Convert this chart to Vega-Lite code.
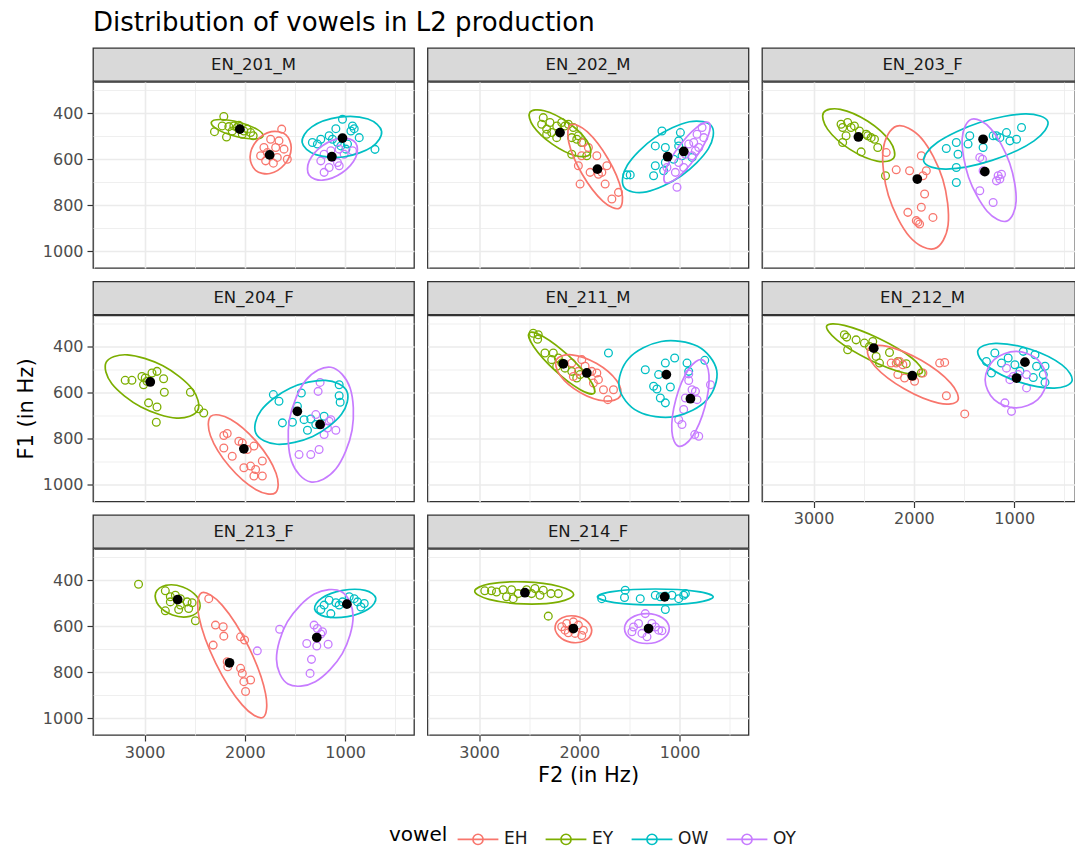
{
  "$schema": "https://vega.github.io/schema/vega-lite/v6.json",
  "padding": {"left": 14, "top": 10, "right": 0, "bottom": 0},
  "title": {"text": "Distribution of vowels in L2 production", "anchor": "start", "frame": "group", "baseline": "alphabetic", "offset": -10},
  "config": {
    "font": "DejaVu Sans",
    "view": {"stroke": "#333333", "strokeWidth": 1.3},
    "range": {"category": ["#F8766D", "#7CAE00", "#00BFC4", "#C77CFF"]},
    "title": {"fontSize": 26, "fontWeight": "normal", "color": "#000000"},
    "axis": {"domain": false, "labelFontSize": 16, "labelColor": "#4d4d4d", "tickColor": "#333333", "tickWidth": 1.2, "tickSize": 6, "gridColor": "#ebebeb", "titleFontSize": 21, "titleFontWeight": "normal", "titleColor": "#000000", "labelOverlap": false, "labelFlush": false},
    "axisX": {"labelPadding": 3, "titlePadding": 4},
    "axisY": {"labelPadding": 4, "titlePadding": 6},
    "legend": {"orient": "none", "legendX": 296, "legendY": 775, "direction": "horizontal", "titleOrient": "left", "titleFontSize": 20, "titleFontWeight": "normal", "titleColor": "#000000", "titlePadding": 14, "labelFontSize": 17, "labelColor": "#1a1a1a", "labelOffset": 10, "columnPadding": 14, "symbolType": "M-1.36,0L1.36,0M-0.34,0A0.34,0.34,0,1,1,0.34,0A0.34,0.34,0,1,1,-0.34,0", "symbolSize": 900, "symbolStrokeWidth": 1.6, "symbolFillColor": "transparent"}
  },
  "datasets": {
    "strips": [
      {"speaker": "EN_201_M"}, {"speaker": "EN_202_M"}, {"speaker": "EN_203_F"}, {"speaker": "EN_204_F"},
      {"speaker": "EN_211_M"}, {"speaker": "EN_212_M"}, {"speaker": "EN_213_F"}, {"speaker": "EN_214_F"}
    ],
    "tokens": [
      {"speaker":"EN_201_M","vowel":"EY","F2":2210,"F1":414},{"speaker":"EN_201_M","vowel":"EY","F2":2303,"F1":480},{"speaker":"EN_201_M","vowel":"EY","F2":2183,"F1":503},{"speaker":"EN_201_M","vowel":"EY","F2":2226,"F1":455},{"speaker":"EN_201_M","vowel":"EY","F2":2160,"F1":458},{"speaker":"EN_201_M","vowel":"EY","F2":2110,"F1":455},{"speaker":"EN_201_M","vowel":"EY","F2":2060,"F1":452},{"speaker":"EN_201_M","vowel":"EY","F2":2010,"F1":477},{"speaker":"EN_201_M","vowel":"EY","F2":1977,"F1":469},{"speaker":"EN_201_M","vowel":"EY","F2":1943,"F1":484},{"speaker":"EN_201_M","vowel":"EY","F2":1917,"F1":498},{"speaker":"EN_201_M","vowel":"EY","F2":2126,"F1":477},{"speaker":"EN_201_M","vowel":"EY","F2":2026,"F1":491},{"speaker":"EN_201_M","vowel":"EY","F2":2076,"F1":462},
      {"speaker":"EN_201_M","vowel":"EH","F2":1633,"F1":469},{"speaker":"EN_201_M","vowel":"EH","F2":1743,"F1":513},{"speaker":"EN_201_M","vowel":"EH","F2":1660,"F1":520},{"speaker":"EN_201_M","vowel":"EH","F2":1810,"F1":549},{"speaker":"EN_201_M","vowel":"EH","F2":1693,"F1":549},{"speaker":"EN_201_M","vowel":"EH","F2":1610,"F1":556},{"speaker":"EN_201_M","vowel":"EH","F2":1577,"F1":600},{"speaker":"EN_201_M","vowel":"EH","F2":1793,"F1":607},{"speaker":"EN_201_M","vowel":"EH","F2":1716,"F1":617},{"speaker":"EN_201_M","vowel":"EH","F2":1843,"F1":585},{"speaker":"EN_201_M","vowel":"EH","F2":1677,"F1":592},{"speaker":"EN_201_M","vowel":"EH","F2":1776,"F1":571},
      {"speaker":"EN_201_M","vowel":"OW","F2":1027,"F1":426},{"speaker":"EN_201_M","vowel":"OW","F2":1093,"F1":467},{"speaker":"EN_201_M","vowel":"OW","F2":927,"F1":455},{"speaker":"EN_201_M","vowel":"OW","F2":910,"F1":467},{"speaker":"EN_201_M","vowel":"OW","F2":943,"F1":477},{"speaker":"EN_201_M","vowel":"OW","F2":1160,"F1":498},{"speaker":"EN_201_M","vowel":"OW","F2":1243,"F1":513},{"speaker":"EN_201_M","vowel":"OW","F2":1327,"F1":527},{"speaker":"EN_201_M","vowel":"OW","F2":1277,"F1":534},{"speaker":"EN_201_M","vowel":"OW","F2":1077,"F1":527},{"speaker":"EN_201_M","vowel":"OW","F2":860,"F1":506},{"speaker":"EN_201_M","vowel":"OW","F2":977,"F1":534},{"speaker":"EN_201_M","vowel":"OW","F2":1043,"F1":542},{"speaker":"EN_201_M","vowel":"OW","F2":703,"F1":557},{"speaker":"EN_201_M","vowel":"OW","F2":993,"F1":556},{"speaker":"EN_201_M","vowel":"OW","F2":1127,"F1":513},
      {"speaker":"EN_201_M","vowel":"OY","F2":1210,"F1":578},{"speaker":"EN_201_M","vowel":"OY","F2":1143,"F1":563},{"speaker":"EN_201_M","vowel":"OY","F2":1060,"F1":556},{"speaker":"EN_201_M","vowel":"OY","F2":1010,"F1":578},{"speaker":"EN_201_M","vowel":"OY","F2":927,"F1":563},{"speaker":"EN_201_M","vowel":"OY","F2":1243,"F1":607},{"speaker":"EN_201_M","vowel":"OY","F2":1077,"F1":614},{"speaker":"EN_201_M","vowel":"OY","F2":1060,"F1":628},{"speaker":"EN_201_M","vowel":"OY","F2":1160,"F1":636},{"speaker":"EN_201_M","vowel":"OY","F2":1210,"F1":657},{"speaker":"EN_201_M","vowel":"OY","F2":1127,"F1":592},

      {"speaker":"EN_202_M","vowel":"EY","F2":2360,"F1":419},{"speaker":"EN_202_M","vowel":"EY","F2":2376,"F1":448},{"speaker":"EN_202_M","vowel":"EY","F2":2326,"F1":469},{"speaker":"EN_202_M","vowel":"EY","F2":2293,"F1":440},{"speaker":"EN_202_M","vowel":"EY","F2":2226,"F1":455},{"speaker":"EN_202_M","vowel":"EY","F2":2176,"F1":440},{"speaker":"EN_202_M","vowel":"EY","F2":2143,"F1":455},{"speaker":"EN_202_M","vowel":"EY","F2":2110,"F1":448},{"speaker":"EN_202_M","vowel":"EY","F2":2060,"F1":462},{"speaker":"EN_202_M","vowel":"EY","F2":2026,"F1":513},{"speaker":"EN_202_M","vowel":"EY","F2":2076,"F1":506},{"speaker":"EN_202_M","vowel":"EY","F2":2226,"F1":506},{"speaker":"EN_202_M","vowel":"EY","F2":2276,"F1":484},{"speaker":"EN_202_M","vowel":"EY","F2":2326,"F1":491},{"speaker":"EN_202_M","vowel":"EY","F2":1977,"F1":527},{"speaker":"EN_202_M","vowel":"EY","F2":2076,"F1":578},{"speaker":"EN_202_M","vowel":"EY","F2":1926,"F1":585},{"speaker":"EN_202_M","vowel":"EY","F2":2010,"F1":498},
      {"speaker":"EN_202_M","vowel":"EH","F2":1960,"F1":527},{"speaker":"EN_202_M","vowel":"EH","F2":1977,"F1":585},{"speaker":"EN_202_M","vowel":"EH","F2":1910,"F1":549},{"speaker":"EN_202_M","vowel":"EH","F2":1826,"F1":585},{"speaker":"EN_202_M","vowel":"EH","F2":2010,"F1":628},{"speaker":"EN_202_M","vowel":"EH","F2":1893,"F1":657},{"speaker":"EN_202_M","vowel":"EH","F2":1776,"F1":657},{"speaker":"EN_202_M","vowel":"EH","F2":1726,"F1":628},{"speaker":"EN_202_M","vowel":"EH","F2":1993,"F1":708},{"speaker":"EN_202_M","vowel":"EH","F2":1743,"F1":708},{"speaker":"EN_202_M","vowel":"EH","F2":1610,"F1":744},{"speaker":"EN_202_M","vowel":"EH","F2":1676,"F1":773},{"speaker":"EN_202_M","vowel":"EH","F2":1810,"F1":665},
      {"speaker":"EN_202_M","vowel":"OW","F2":1177,"F1":477},{"speaker":"EN_202_M","vowel":"OW","F2":1243,"F1":542},{"speaker":"EN_202_M","vowel":"OW","F2":1143,"F1":549},{"speaker":"EN_202_M","vowel":"OW","F2":993,"F1":484},{"speaker":"EN_202_M","vowel":"OW","F2":1010,"F1":520},{"speaker":"EN_202_M","vowel":"OW","F2":1243,"F1":628},{"speaker":"EN_202_M","vowel":"OW","F2":1260,"F1":672},{"speaker":"EN_202_M","vowel":"OW","F2":1160,"F1":650},{"speaker":"EN_202_M","vowel":"OW","F2":1143,"F1":614},{"speaker":"EN_202_M","vowel":"OW","F2":1060,"F1":600},{"speaker":"EN_202_M","vowel":"OW","F2":977,"F1":585},{"speaker":"EN_202_M","vowel":"OW","F2":877,"F1":592},{"speaker":"EN_202_M","vowel":"OW","F2":1527,"F1":668},{"speaker":"EN_202_M","vowel":"OW","F2":1493,"F1":668},{"speaker":"EN_202_M","vowel":"OW","F2":1010,"F1":542},
      {"speaker":"EN_202_M","vowel":"OY","F2":777,"F1":462},{"speaker":"EN_202_M","vowel":"OY","F2":827,"F1":491},{"speaker":"EN_202_M","vowel":"OY","F2":760,"F1":506},{"speaker":"EN_202_M","vowel":"OY","F2":910,"F1":534},{"speaker":"EN_202_M","vowel":"OY","F2":860,"F1":527},{"speaker":"EN_202_M","vowel":"OY","F2":843,"F1":563},{"speaker":"EN_202_M","vowel":"OY","F2":943,"F1":578},{"speaker":"EN_202_M","vowel":"OY","F2":877,"F1":585},{"speaker":"EN_202_M","vowel":"OY","F2":1010,"F1":614},{"speaker":"EN_202_M","vowel":"OY","F2":960,"F1":636},{"speaker":"EN_202_M","vowel":"OY","F2":1043,"F1":657},{"speaker":"EN_202_M","vowel":"OY","F2":1127,"F1":636},{"speaker":"EN_202_M","vowel":"OY","F2":1027,"F1":722},{"speaker":"EN_202_M","vowel":"OY","F2":810,"F1":549},

      {"speaker":"EN_203_F","vowel":"EY","F2":2726,"F1":448},{"speaker":"EN_203_F","vowel":"EY","F2":2710,"F1":462},{"speaker":"EN_203_F","vowel":"EY","F2":2660,"F1":440},{"speaker":"EN_203_F","vowel":"EY","F2":2626,"F1":462},{"speaker":"EN_203_F","vowel":"EY","F2":2676,"F1":498},{"speaker":"EN_203_F","vowel":"EY","F2":2593,"F1":455},{"speaker":"EN_203_F","vowel":"EY","F2":2543,"F1":477},{"speaker":"EN_203_F","vowel":"EY","F2":2476,"F1":491},{"speaker":"EN_203_F","vowel":"EY","F2":2426,"F1":506},{"speaker":"EN_203_F","vowel":"EY","F2":2393,"F1":513},{"speaker":"EN_203_F","vowel":"EY","F2":2710,"F1":527},{"speaker":"EN_203_F","vowel":"EY","F2":2526,"F1":568},{"speaker":"EN_203_F","vowel":"EY","F2":2360,"F1":549},{"speaker":"EN_203_F","vowel":"EY","F2":2283,"F1":672},{"speaker":"EN_203_F","vowel":"EY","F2":2460,"F1":498},
      {"speaker":"EN_203_F","vowel":"EH","F2":1926,"F1":585},{"speaker":"EN_203_F","vowel":"EH","F2":2176,"F1":646},{"speaker":"EN_203_F","vowel":"EH","F2":2043,"F1":650},{"speaker":"EN_203_F","vowel":"EH","F2":1910,"F1":672},{"speaker":"EN_203_F","vowel":"EH","F2":1876,"F1":650},{"speaker":"EN_203_F","vowel":"EH","F2":1893,"F1":751},{"speaker":"EN_203_F","vowel":"EH","F2":1926,"F1":809},{"speaker":"EN_203_F","vowel":"EH","F2":2060,"F1":831},{"speaker":"EN_203_F","vowel":"EH","F2":1810,"F1":853},{"speaker":"EN_203_F","vowel":"EH","F2":1976,"F1":867},{"speaker":"EN_203_F","vowel":"EH","F2":1943,"F1":882},{"speaker":"EN_203_F","vowel":"EH","F2":1960,"F1":874},{"speaker":"EN_203_F","vowel":"EH","F2":2276,"F1":571},
      {"speaker":"EN_203_F","vowel":"OW","F2":1677,"F1":553},{"speaker":"EN_203_F","vowel":"OW","F2":1577,"F1":527},{"speaker":"EN_203_F","vowel":"OW","F2":1560,"F1":578},{"speaker":"EN_203_F","vowel":"OW","F2":1460,"F1":534},{"speaker":"EN_203_F","vowel":"OW","F2":1443,"F1":498},{"speaker":"EN_203_F","vowel":"OW","F2":1577,"F1":636},{"speaker":"EN_203_F","vowel":"OW","F2":1577,"F1":701},{"speaker":"EN_203_F","vowel":"OW","F2":1310,"F1":549},{"speaker":"EN_203_F","vowel":"OW","F2":1210,"F1":498},{"speaker":"EN_203_F","vowel":"OW","F2":1143,"F1":506},{"speaker":"EN_203_F","vowel":"OW","F2":1077,"F1":484},{"speaker":"EN_203_F","vowel":"OW","F2":1043,"F1":520},{"speaker":"EN_203_F","vowel":"OW","F2":977,"F1":513},{"speaker":"EN_203_F","vowel":"OW","F2":927,"F1":462},{"speaker":"EN_203_F","vowel":"OW","F2":1177,"F1":498},
      {"speaker":"EN_203_F","vowel":"OY","F2":1343,"F1":592},{"speaker":"EN_203_F","vowel":"OY","F2":1310,"F1":650},{"speaker":"EN_203_F","vowel":"OY","F2":1160,"F1":672},{"speaker":"EN_203_F","vowel":"OY","F2":1127,"F1":665},{"speaker":"EN_203_F","vowel":"OY","F2":1143,"F1":686},{"speaker":"EN_203_F","vowel":"OY","F2":1177,"F1":694},{"speaker":"EN_203_F","vowel":"OY","F2":1343,"F1":737},{"speaker":"EN_203_F","vowel":"OY","F2":1210,"F1":788},{"speaker":"EN_203_F","vowel":"OY","F2":1316,"F1":600},

      {"speaker":"EN_204_F","vowel":"EY","F2":3193,"F1":546},{"speaker":"EN_204_F","vowel":"EY","F2":3126,"F1":546},{"speaker":"EN_204_F","vowel":"EY","F2":3026,"F1":529},{"speaker":"EN_204_F","vowel":"EY","F2":2993,"F1":536},{"speaker":"EN_204_F","vowel":"EY","F2":2976,"F1":550},{"speaker":"EN_204_F","vowel":"EY","F2":2926,"F1":514},{"speaker":"EN_204_F","vowel":"EY","F2":2876,"F1":507},{"speaker":"EN_204_F","vowel":"EY","F2":2810,"F1":539},{"speaker":"EN_204_F","vowel":"EY","F2":2803,"F1":598},{"speaker":"EN_204_F","vowel":"EY","F2":2960,"F1":644},{"speaker":"EN_204_F","vowel":"EY","F2":2876,"F1":662},{"speaker":"EN_204_F","vowel":"EY","F2":2883,"F1":728},{"speaker":"EN_204_F","vowel":"EY","F2":2543,"F1":598},{"speaker":"EN_204_F","vowel":"EY","F2":2460,"F1":670},{"speaker":"EN_204_F","vowel":"EY","F2":2410,"F1":688},{"speaker":"EN_204_F","vowel":"EY","F2":3010,"F1":565},
      {"speaker":"EN_204_F","vowel":"EH","F2":2210,"F1":786},{"speaker":"EN_204_F","vowel":"EH","F2":2176,"F1":777},{"speaker":"EN_204_F","vowel":"EH","F2":2210,"F1":840},{"speaker":"EN_204_F","vowel":"EH","F2":2126,"F1":876},{"speaker":"EN_204_F","vowel":"EH","F2":2060,"F1":811},{"speaker":"EN_204_F","vowel":"EH","F2":2026,"F1":818},{"speaker":"EN_204_F","vowel":"EH","F2":1910,"F1":832},{"speaker":"EN_204_F","vowel":"EH","F2":2010,"F1":926},{"speaker":"EN_204_F","vowel":"EH","F2":1943,"F1":919},{"speaker":"EN_204_F","vowel":"EH","F2":1893,"F1":934},{"speaker":"EN_204_F","vowel":"EH","F2":1826,"F1":897},{"speaker":"EN_204_F","vowel":"EH","F2":1910,"F1":962},{"speaker":"EN_204_F","vowel":"EH","F2":1826,"F1":962},{"speaker":"EN_204_F","vowel":"EH","F2":1976,"F1":847},
      {"speaker":"EN_204_F","vowel":"OW","F2":1716,"F1":608},{"speaker":"EN_204_F","vowel":"OW","F2":1660,"F1":637},{"speaker":"EN_204_F","vowel":"OW","F2":1437,"F1":601},{"speaker":"EN_204_F","vowel":"OW","F2":1060,"F1":613},{"speaker":"EN_204_F","vowel":"OW","F2":1050,"F1":641},{"speaker":"EN_204_F","vowel":"OW","F2":1060,"F1":565},{"speaker":"EN_204_F","vowel":"OW","F2":1476,"F1":659},{"speaker":"EN_204_F","vowel":"OW","F2":1626,"F1":731},{"speaker":"EN_204_F","vowel":"OW","F2":1526,"F1":728},{"speaker":"EN_204_F","vowel":"OW","F2":1410,"F1":717},{"speaker":"EN_204_F","vowel":"OW","F2":1343,"F1":714},{"speaker":"EN_204_F","vowel":"OW","F2":1376,"F1":763},{"speaker":"EN_204_F","vowel":"OW","F2":1210,"F1":702},{"speaker":"EN_204_F","vowel":"OW","F2":1293,"F1":738},
      {"speaker":"EN_204_F","vowel":"OY","F2":1250,"F1":555},{"speaker":"EN_204_F","vowel":"OY","F2":1270,"F1":594},{"speaker":"EN_204_F","vowel":"OY","F2":1293,"F1":695},{"speaker":"EN_204_F","vowel":"OY","F2":1143,"F1":717},{"speaker":"EN_204_F","vowel":"OY","F2":1177,"F1":753},{"speaker":"EN_204_F","vowel":"OY","F2":1093,"F1":763},{"speaker":"EN_204_F","vowel":"OY","F2":1210,"F1":782},{"speaker":"EN_204_F","vowel":"OY","F2":1460,"F1":869},{"speaker":"EN_204_F","vowel":"OY","F2":1343,"F1":869},{"speaker":"EN_204_F","vowel":"OY","F2":1260,"F1":847},{"speaker":"EN_204_F","vowel":"OY","F2":1160,"F1":724},

      {"speaker":"EN_211_M","vowel":"EY","F2":2460,"F1":341},{"speaker":"EN_211_M","vowel":"EY","F2":2410,"F1":348},{"speaker":"EN_211_M","vowel":"EY","F2":2416,"F1":367},{"speaker":"EN_211_M","vowel":"EY","F2":2343,"F1":427},{"speaker":"EN_211_M","vowel":"EY","F2":2260,"F1":427},{"speaker":"EN_211_M","vowel":"EY","F2":2276,"F1":456},{"speaker":"EN_211_M","vowel":"EY","F2":2210,"F1":449},{"speaker":"EN_211_M","vowel":"EY","F2":2176,"F1":471},{"speaker":"EN_211_M","vowel":"EY","F2":2143,"F1":493},{"speaker":"EN_211_M","vowel":"EY","F2":2076,"F1":507},{"speaker":"EN_211_M","vowel":"EY","F2":2026,"F1":536},{"speaker":"EN_211_M","vowel":"EY","F2":1993,"F1":521},{"speaker":"EN_211_M","vowel":"EY","F2":2226,"F1":485},
      {"speaker":"EN_211_M","vowel":"EH","F2":2076,"F1":471},{"speaker":"EN_211_M","vowel":"EH","F2":1976,"F1":456},{"speaker":"EN_211_M","vowel":"EH","F2":1943,"F1":485},{"speaker":"EN_211_M","vowel":"EH","F2":1876,"F1":507},{"speaker":"EN_211_M","vowel":"EH","F2":1826,"F1":514},{"speaker":"EN_211_M","vowel":"EH","F2":2060,"F1":529},{"speaker":"EN_211_M","vowel":"EH","F2":1810,"F1":543},{"speaker":"EN_211_M","vowel":"EH","F2":1760,"F1":587},{"speaker":"EN_211_M","vowel":"EH","F2":1660,"F1":587},{"speaker":"EN_211_M","vowel":"EH","F2":1716,"F1":630},{"speaker":"EN_211_M","vowel":"EH","F2":1860,"F1":558},{"speaker":"EN_211_M","vowel":"EH","F2":2010,"F1":507},
      {"speaker":"EN_211_M","vowel":"OW","F2":1710,"F1":427},{"speaker":"EN_211_M","vowel":"OW","F2":1343,"F1":500},{"speaker":"EN_211_M","vowel":"OW","F2":1210,"F1":521},{"speaker":"EN_211_M","vowel":"OW","F2":1143,"F1":471},{"speaker":"EN_211_M","vowel":"OW","F2":1050,"F1":449},{"speaker":"EN_211_M","vowel":"OW","F2":927,"F1":471},{"speaker":"EN_211_M","vowel":"OW","F2":910,"F1":507},{"speaker":"EN_211_M","vowel":"OW","F2":1260,"F1":572},{"speaker":"EN_211_M","vowel":"OW","F2":1227,"F1":584},{"speaker":"EN_211_M","vowel":"OW","F2":1093,"F1":575},{"speaker":"EN_211_M","vowel":"OW","F2":1193,"F1":623},{"speaker":"EN_211_M","vowel":"OW","F2":1143,"F1":644},{"speaker":"EN_211_M","vowel":"OW","F2":750,"F1":459},
      {"speaker":"EN_211_M","vowel":"OY","F2":910,"F1":518},{"speaker":"EN_211_M","vowel":"OY","F2":910,"F1":547},{"speaker":"EN_211_M","vowel":"OY","F2":877,"F1":587},{"speaker":"EN_211_M","vowel":"OY","F2":843,"F1":594},{"speaker":"EN_211_M","vowel":"OY","F2":943,"F1":623},{"speaker":"EN_211_M","vowel":"OY","F2":960,"F1":673},{"speaker":"EN_211_M","vowel":"OY","F2":1010,"F1":717},{"speaker":"EN_211_M","vowel":"OY","F2":977,"F1":738},{"speaker":"EN_211_M","vowel":"OY","F2":850,"F1":782},{"speaker":"EN_211_M","vowel":"OY","F2":810,"F1":789},{"speaker":"EN_211_M","vowel":"OY","F2":693,"F1":565},{"speaker":"EN_211_M","vowel":"OY","F2":827,"F1":630},

      {"speaker":"EN_212_M","vowel":"EY","F2":2693,"F1":348},{"speaker":"EN_212_M","vowel":"EY","F2":2670,"F1":358},{"speaker":"EN_212_M","vowel":"EY","F2":2576,"F1":370},{"speaker":"EN_212_M","vowel":"EY","F2":2660,"F1":413},{"speaker":"EN_212_M","vowel":"EY","F2":2493,"F1":384},{"speaker":"EN_212_M","vowel":"EY","F2":2410,"F1":377},{"speaker":"EN_212_M","vowel":"EY","F2":2376,"F1":442},{"speaker":"EN_212_M","vowel":"EY","F2":2343,"F1":471},{"speaker":"EN_212_M","vowel":"EY","F2":2243,"F1":425},{"speaker":"EN_212_M","vowel":"EY","F2":2160,"F1":464},{"speaker":"EN_212_M","vowel":"EY","F2":2076,"F1":474},{"speaker":"EN_212_M","vowel":"EY","F2":1926,"F1":514},{"speaker":"EN_212_M","vowel":"EY","F2":2443,"F1":399},
      {"speaker":"EN_212_M","vowel":"EH","F2":2226,"F1":471},{"speaker":"EN_212_M","vowel":"EH","F2":2176,"F1":471},{"speaker":"EN_212_M","vowel":"EH","F2":2143,"F1":464},{"speaker":"EN_212_M","vowel":"EH","F2":2110,"F1":478},{"speaker":"EN_212_M","vowel":"EH","F2":2160,"F1":521},{"speaker":"EN_212_M","vowel":"EH","F2":2093,"F1":536},{"speaker":"EN_212_M","vowel":"EH","F2":1993,"F1":550},{"speaker":"EN_212_M","vowel":"EH","F2":1910,"F1":514},{"speaker":"EN_212_M","vowel":"EH","F2":1743,"F1":471},{"speaker":"EN_212_M","vowel":"EH","F2":1693,"F1":468},{"speaker":"EN_212_M","vowel":"EH","F2":1676,"F1":613},{"speaker":"EN_212_M","vowel":"EH","F2":1493,"F1":692},{"speaker":"EN_212_M","vowel":"EH","F2":2010,"F1":529},
      {"speaker":"EN_212_M","vowel":"OW","F2":1277,"F1":464},{"speaker":"EN_212_M","vowel":"OW","F2":1193,"F1":427},{"speaker":"EN_212_M","vowel":"OW","F2":1127,"F1":471},{"speaker":"EN_212_M","vowel":"OW","F2":1060,"F1":449},{"speaker":"EN_212_M","vowel":"OW","F2":993,"F1":478},{"speaker":"EN_212_M","vowel":"OW","F2":910,"F1":420},{"speaker":"EN_212_M","vowel":"OW","F2":793,"F1":435},{"speaker":"EN_212_M","vowel":"OW","F2":777,"F1":485},{"speaker":"EN_212_M","vowel":"OW","F2":693,"F1":485},{"speaker":"EN_212_M","vowel":"OW","F2":710,"F1":521},{"speaker":"EN_212_M","vowel":"OW","F2":693,"F1":555},{"speaker":"EN_212_M","vowel":"OW","F2":810,"F1":534},{"speaker":"EN_212_M","vowel":"OW","F2":943,"F1":506},{"speaker":"EN_212_M","vowel":"OW","F2":1227,"F1":514},
      {"speaker":"EN_212_M","vowel":"OY","F2":1093,"F1":644},{"speaker":"EN_212_M","vowel":"OY","F2":1027,"F1":681},{"speaker":"EN_212_M","vowel":"OY","F2":1043,"F1":543},{"speaker":"EN_212_M","vowel":"OY","F2":1010,"F1":529},{"speaker":"EN_212_M","vowel":"OY","F2":877,"F1":579},{"speaker":"EN_212_M","vowel":"OY","F2":877,"F1":521},{"speaker":"EN_212_M","vowel":"OY","F2":1077,"F1":493},{"speaker":"EN_212_M","vowel":"OY","F2":960,"F1":521},

      {"speaker":"EN_213_F","vowel":"EY","F2":3060,"F1":417},{"speaker":"EN_213_F","vowel":"EY","F2":2793,"F1":446},{"speaker":"EN_213_F","vowel":"EY","F2":2743,"F1":472},{"speaker":"EN_213_F","vowel":"EY","F2":2693,"F1":465},{"speaker":"EN_213_F","vowel":"EY","F2":2643,"F1":480},{"speaker":"EN_213_F","vowel":"EY","F2":2576,"F1":494},{"speaker":"EN_213_F","vowel":"EY","F2":2526,"F1":498},{"speaker":"EN_213_F","vowel":"EY","F2":2560,"F1":523},{"speaker":"EN_213_F","vowel":"EY","F2":2660,"F1":527},{"speaker":"EN_213_F","vowel":"EY","F2":2793,"F1":533},{"speaker":"EN_213_F","vowel":"EY","F2":2643,"F1":508},{"speaker":"EN_213_F","vowel":"EY","F2":2493,"F1":576},{"speaker":"EN_213_F","vowel":"EY","F2":2743,"F1":494},
      {"speaker":"EN_213_F","vowel":"EH","F2":2360,"F1":480},{"speaker":"EN_213_F","vowel":"EH","F2":2293,"F1":595},{"speaker":"EN_213_F","vowel":"EH","F2":2216,"F1":602},{"speaker":"EN_213_F","vowel":"EH","F2":2210,"F1":643},{"speaker":"EN_213_F","vowel":"EH","F2":2043,"F1":646},{"speaker":"EN_213_F","vowel":"EH","F2":2003,"F1":660},{"speaker":"EN_213_F","vowel":"EH","F2":2316,"F1":682},{"speaker":"EN_213_F","vowel":"EH","F2":2176,"F1":754},{"speaker":"EN_213_F","vowel":"EH","F2":2170,"F1":776},{"speaker":"EN_213_F","vowel":"EH","F2":2043,"F1":783},{"speaker":"EN_213_F","vowel":"EH","F2":2026,"F1":805},{"speaker":"EN_213_F","vowel":"EH","F2":2010,"F1":841},{"speaker":"EN_213_F","vowel":"EH","F2":1943,"F1":834},{"speaker":"EN_213_F","vowel":"EH","F2":1993,"F1":884},
      {"speaker":"EN_213_F","vowel":"OW","F2":1243,"F1":527},{"speaker":"EN_213_F","vowel":"OW","F2":1160,"F1":487},{"speaker":"EN_213_F","vowel":"OW","F2":1143,"F1":545},{"speaker":"EN_213_F","vowel":"OW","F2":1093,"F1":498},{"speaker":"EN_213_F","vowel":"OW","F2":1060,"F1":508},{"speaker":"EN_213_F","vowel":"OW","F2":1027,"F1":494},{"speaker":"EN_213_F","vowel":"OW","F2":960,"F1":472},{"speaker":"EN_213_F","vowel":"OW","F2":910,"F1":480},{"speaker":"EN_213_F","vowel":"OW","F2":877,"F1":494},{"speaker":"EN_213_F","vowel":"OW","F2":843,"F1":516},{"speaker":"EN_213_F","vowel":"OW","F2":810,"F1":501},{"speaker":"EN_213_F","vowel":"OW","F2":1210,"F1":508},
      {"speaker":"EN_213_F","vowel":"OY","F2":1653,"F1":613},{"speaker":"EN_213_F","vowel":"OY","F2":1876,"F1":707},{"speaker":"EN_213_F","vowel":"OY","F2":1383,"F1":675},{"speaker":"EN_213_F","vowel":"OY","F2":1310,"F1":595},{"speaker":"EN_213_F","vowel":"OY","F2":1277,"F1":610},{"speaker":"EN_213_F","vowel":"OY","F2":1227,"F1":624},{"speaker":"EN_213_F","vowel":"OY","F2":1170,"F1":678},{"speaker":"EN_213_F","vowel":"OY","F2":1283,"F1":686},{"speaker":"EN_213_F","vowel":"OY","F2":1336,"F1":744},{"speaker":"EN_213_F","vowel":"OY","F2":1350,"F1":805},{"speaker":"EN_213_F","vowel":"OY","F2":1243,"F1":634},

      {"speaker":"EN_214_F","vowel":"EY","F2":2943,"F1":446},{"speaker":"EN_214_F","vowel":"EY","F2":2876,"F1":446},{"speaker":"EN_214_F","vowel":"EY","F2":2826,"F1":451},{"speaker":"EN_214_F","vowel":"EY","F2":2760,"F1":441},{"speaker":"EN_214_F","vowel":"EY","F2":2726,"F1":472},{"speaker":"EN_214_F","vowel":"EY","F2":2660,"F1":480},{"speaker":"EN_214_F","vowel":"EY","F2":2676,"F1":441},{"speaker":"EN_214_F","vowel":"EY","F2":2610,"F1":458},{"speaker":"EN_214_F","vowel":"EY","F2":2526,"F1":441},{"speaker":"EN_214_F","vowel":"EY","F2":2476,"F1":458},{"speaker":"EN_214_F","vowel":"EY","F2":2443,"F1":436},{"speaker":"EN_214_F","vowel":"EY","F2":2393,"F1":465},{"speaker":"EN_214_F","vowel":"EY","F2":2360,"F1":443},{"speaker":"EN_214_F","vowel":"EY","F2":2283,"F1":458},{"speaker":"EN_214_F","vowel":"EY","F2":2210,"F1":458},{"speaker":"EN_214_F","vowel":"EY","F2":2310,"F1":556},
      {"speaker":"EN_214_F","vowel":"EH","F2":2176,"F1":602},{"speaker":"EN_214_F","vowel":"EH","F2":2126,"F1":588},{"speaker":"EN_214_F","vowel":"EH","F2":2060,"F1":581},{"speaker":"EN_214_F","vowel":"EH","F2":2010,"F1":595},{"speaker":"EN_214_F","vowel":"EH","F2":1960,"F1":617},{"speaker":"EN_214_F","vowel":"EH","F2":2110,"F1":628},{"speaker":"EN_214_F","vowel":"EH","F2":2043,"F1":631},{"speaker":"EN_214_F","vowel":"EH","F2":2143,"F1":617},{"speaker":"EN_214_F","vowel":"EH","F2":1976,"F1":640},{"speaker":"EN_214_F","vowel":"EH","F2":2076,"F1":610},
      {"speaker":"EN_214_F","vowel":"OW","F2":1777,"F1":480},{"speaker":"EN_214_F","vowel":"OW","F2":1543,"F1":443},{"speaker":"EN_214_F","vowel":"OW","F2":1550,"F1":475},{"speaker":"EN_214_F","vowel":"OW","F2":1393,"F1":480},{"speaker":"EN_214_F","vowel":"OW","F2":1243,"F1":465},{"speaker":"EN_214_F","vowel":"OW","F2":1193,"F1":472},{"speaker":"EN_214_F","vowel":"OW","F2":1143,"F1":469},{"speaker":"EN_214_F","vowel":"OW","F2":1077,"F1":465},{"speaker":"EN_214_F","vowel":"OW","F2":1010,"F1":480},{"speaker":"EN_214_F","vowel":"OW","F2":960,"F1":465},{"speaker":"EN_214_F","vowel":"OW","F2":1143,"F1":527},{"speaker":"EN_214_F","vowel":"OW","F2":943,"F1":458},
      {"speaker":"EN_214_F","vowel":"OY","F2":1460,"F1":603},{"speaker":"EN_214_F","vowel":"OY","F2":1410,"F1":588},{"speaker":"EN_214_F","vowel":"OY","F2":1343,"F1":545},{"speaker":"EN_214_F","vowel":"OY","F2":1277,"F1":588},{"speaker":"EN_214_F","vowel":"OY","F2":1210,"F1":617},{"speaker":"EN_214_F","vowel":"OY","F2":1177,"F1":620},{"speaker":"EN_214_F","vowel":"OY","F2":1376,"F1":631},{"speaker":"EN_214_F","vowel":"OY","F2":1326,"F1":646},{"speaker":"EN_214_F","vowel":"OY","F2":1476,"F1":624},{"speaker":"EN_214_F","vowel":"OY","F2":1243,"F1":603}
    ],
    "means": [
      {"speaker":"EN_201_M","vowel":"EY","F2":2050,"F1":469},{"speaker":"EN_201_M","vowel":"EH","F2":1753,"F1":581},{"speaker":"EN_201_M","vowel":"OW","F2":1027,"F1":508},{"speaker":"EN_201_M","vowel":"OY","F2":1133,"F1":589},
      {"speaker":"EN_202_M","vowel":"EY","F2":2193,"F1":484},{"speaker":"EN_202_M","vowel":"EH","F2":1820,"F1":643},{"speaker":"EN_202_M","vowel":"OW","F2":1120,"F1":589},{"speaker":"EN_202_M","vowel":"OY","F2":960,"F1":566},
      {"speaker":"EN_203_F","vowel":"EY","F2":2553,"F1":503},{"speaker":"EN_203_F","vowel":"EH","F2":1966,"F1":686},{"speaker":"EN_203_F","vowel":"OW","F2":1310,"F1":513},{"speaker":"EN_203_F","vowel":"OY","F2":1293,"F1":654},
      {"speaker":"EN_204_F","vowel":"EY","F2":2943,"F1":553},{"speaker":"EN_204_F","vowel":"EH","F2":2010,"F1":844},{"speaker":"EN_204_F","vowel":"OW","F2":1477,"F1":681},{"speaker":"EN_204_F","vowel":"OY","F2":1250,"F1":738},
      {"speaker":"EN_211_M","vowel":"EY","F2":2160,"F1":474},{"speaker":"EN_211_M","vowel":"EH","F2":1926,"F1":514},{"speaker":"EN_211_M","vowel":"OW","F2":1133,"F1":521},{"speaker":"EN_211_M","vowel":"OY","F2":893,"F1":626},
      {"speaker":"EN_212_M","vowel":"EY","F2":2400,"F1":406},{"speaker":"EN_212_M","vowel":"EH","F2":2016,"F1":526},{"speaker":"EN_212_M","vowel":"OW","F2":893,"F1":467},{"speaker":"EN_212_M","vowel":"OY","F2":977,"F1":536},
      {"speaker":"EN_213_F","vowel":"EY","F2":2670,"F1":484},{"speaker":"EN_213_F","vowel":"EH","F2":2153,"F1":759},{"speaker":"EN_213_F","vowel":"OW","F2":983,"F1":504},{"speaker":"EN_213_F","vowel":"OY","F2":1283,"F1":649},
      {"speaker":"EN_214_F","vowel":"EY","F2":2543,"F1":454},{"speaker":"EN_214_F","vowel":"EH","F2":2060,"F1":610},{"speaker":"EN_214_F","vowel":"OW","F2":1150,"F1":472},{"speaker":"EN_214_F","vowel":"OY","F2":1310,"F1":610}
    ],
    "ellipses": [
      {"speaker":"EN_201_M","vowel":"EY","k":0,"F2":1819,"F1":499},{"speaker":"EN_201_M","vowel":"EY","k":1,"F2":1908,"F1":512},{"speaker":"EN_201_M","vowel":"EY","k":2,"F2":2096,"F1":500},{"speaker":"EN_201_M","vowel":"EY","k":3,"F2":2273,"F1":470},{"speaker":"EN_201_M","vowel":"EY","k":4,"F2":2334,"F1":439},{"speaker":"EN_201_M","vowel":"EY","k":5,"F2":2246,"F1":427},{"speaker":"EN_201_M","vowel":"EY","k":6,"F2":2058,"F1":439},{"speaker":"EN_201_M","vowel":"EY","k":7,"F2":1881,"F1":469},
      {"speaker":"EN_201_M","vowel":"EH","k":0,"F2":1593,"F1":493},{"speaker":"EN_201_M","vowel":"EH","k":1,"F2":1538,"F1":552},{"speaker":"EN_201_M","vowel":"EH","k":2,"F2":1603,"F1":622},{"speaker":"EN_201_M","vowel":"EH","k":3,"F2":1750,"F1":662},{"speaker":"EN_201_M","vowel":"EH","k":4,"F2":1893,"F1":648},{"speaker":"EN_201_M","vowel":"EH","k":5,"F2":1948,"F1":589},{"speaker":"EN_201_M","vowel":"EH","k":6,"F2":1883,"F1":520},{"speaker":"EN_201_M","vowel":"EH","k":7,"F2":1736,"F1":480},
      {"speaker":"EN_201_M","vowel":"OW","k":0,"F2":637,"F1":479},{"speaker":"EN_201_M","vowel":"OW","k":1,"F2":733,"F1":546},{"speaker":"EN_201_M","vowel":"OW","k":2,"F2":1005,"F1":589},{"speaker":"EN_201_M","vowel":"OW","k":3,"F2":1293,"F1":580},{"speaker":"EN_201_M","vowel":"OW","k":4,"F2":1429,"F1":527},{"speaker":"EN_201_M","vowel":"OW","k":5,"F2":1333,"F1":459},{"speaker":"EN_201_M","vowel":"OW","k":6,"F2":1061,"F1":417},{"speaker":"EN_201_M","vowel":"OW","k":7,"F2":773,"F1":425},
      {"speaker":"EN_201_M","vowel":"OY","k":0,"F2":895,"F1":529},{"speaker":"EN_201_M","vowel":"OY","k":1,"F2":895,"F1":592},{"speaker":"EN_201_M","vowel":"OY","k":2,"F2":1031,"F1":659},{"speaker":"EN_201_M","vowel":"OY","k":3,"F2":1223,"F1":691},{"speaker":"EN_201_M","vowel":"OY","k":4,"F2":1359,"F1":670},{"speaker":"EN_201_M","vowel":"OY","k":5,"F2":1359,"F1":608},{"speaker":"EN_201_M","vowel":"OY","k":6,"F2":1223,"F1":540},{"speaker":"EN_201_M","vowel":"OY","k":7,"F2":1031,"F1":508},

      {"speaker":"EN_202_M","vowel":"EY","k":0,"F2":1893,"F1":578},{"speaker":"EN_202_M","vowel":"EY","k":1,"F2":2035,"F1":585},{"speaker":"EN_202_M","vowel":"EY","k":2,"F2":2270,"F1":534},{"speaker":"EN_202_M","vowel":"EY","k":3,"F2":2459,"F1":456},{"speaker":"EN_202_M","vowel":"EY","k":4,"F2":2493,"F1":396},{"speaker":"EN_202_M","vowel":"EY","k":5,"F2":2351,"F1":389},{"speaker":"EN_202_M","vowel":"EY","k":6,"F2":2117,"F1":439},{"speaker":"EN_202_M","vowel":"EY","k":7,"F2":1927,"F1":518},
      {"speaker":"EN_202_M","vowel":"EH","k":0,"F2":1601,"F1":813},{"speaker":"EN_202_M","vowel":"EH","k":1,"F2":1764,"F1":783},{"speaker":"EN_202_M","vowel":"EH","k":2,"F2":1973,"F1":664},{"speaker":"EN_202_M","vowel":"EH","k":3,"F2":2106,"F1":526},{"speaker":"EN_202_M","vowel":"EH","k":4,"F2":2085,"F1":450},{"speaker":"EN_202_M","vowel":"EH","k":5,"F2":1922,"F1":480},{"speaker":"EN_202_M","vowel":"EH","k":6,"F2":1713,"F1":599},{"speaker":"EN_202_M","vowel":"EH","k":7,"F2":1580,"F1":737},
      {"speaker":"EN_202_M","vowel":"OW","k":0,"F2":680,"F1":457},{"speaker":"EN_202_M","vowel":"OW","k":1,"F2":714,"F1":554},{"speaker":"EN_202_M","vowel":"OW","k":2,"F2":983,"F1":672},{"speaker":"EN_202_M","vowel":"OW","k":3,"F2":1331,"F1":742},{"speaker":"EN_202_M","vowel":"OW","k":4,"F2":1554,"F1":722},{"speaker":"EN_202_M","vowel":"OW","k":5,"F2":1521,"F1":625},{"speaker":"EN_202_M","vowel":"OW","k":6,"F2":1251,"F1":507},{"speaker":"EN_202_M","vowel":"OW","k":7,"F2":903,"F1":437},
      {"speaker":"EN_202_M","vowel":"OY","k":0,"F2":709,"F1":441},{"speaker":"EN_202_M","vowel":"OY","k":1,"F2":716,"F1":497},{"speaker":"EN_202_M","vowel":"OY","k":2,"F2":846,"F1":596},{"speaker":"EN_202_M","vowel":"OY","k":3,"F2":1024,"F1":681},{"speaker":"EN_202_M","vowel":"OY","k":4,"F2":1145,"F1":701},{"speaker":"EN_202_M","vowel":"OY","k":5,"F2":1138,"F1":644},{"speaker":"EN_202_M","vowel":"OY","k":6,"F2":1008,"F1":545},{"speaker":"EN_202_M","vowel":"OY","k":7,"F2":830,"F1":461},

      {"speaker":"EN_203_F","vowel":"EY","k":0,"F2":2200,"F1":594},{"speaker":"EN_203_F","vowel":"EY","k":1,"F2":2367,"F1":608},{"speaker":"EN_203_F","vowel":"EY","k":2,"F2":2641,"F1":556},{"speaker":"EN_203_F","vowel":"EY","k":3,"F2":2861,"F1":469},{"speaker":"EN_203_F","vowel":"EY","k":4,"F2":2900,"F1":397},{"speaker":"EN_203_F","vowel":"EY","k":5,"F2":2733,"F1":383},{"speaker":"EN_203_F","vowel":"EY","k":6,"F2":2459,"F1":435},{"speaker":"EN_203_F","vowel":"EY","k":7,"F2":2239,"F1":522},
      {"speaker":"EN_203_F","vowel":"EH","k":0,"F2":1795,"F1":989},{"speaker":"EN_203_F","vowel":"EH","k":1,"F2":2042,"F1":937},{"speaker":"EN_203_F","vowel":"EH","k":2,"F2":2254,"F1":758},{"speaker":"EN_203_F","vowel":"EH","k":3,"F2":2307,"F1":559},{"speaker":"EN_203_F","vowel":"EH","k":4,"F2":2171,"F1":456},{"speaker":"EN_203_F","vowel":"EH","k":5,"F2":1924,"F1":509},{"speaker":"EN_203_F","vowel":"EH","k":6,"F2":1712,"F1":687},{"speaker":"EN_203_F","vowel":"EH","k":7,"F2":1659,"F1":886},
      {"speaker":"EN_203_F","vowel":"OW","k":0,"F2":665,"F1":436},{"speaker":"EN_203_F","vowel":"OW","k":1,"F2":802,"F1":520},{"speaker":"EN_203_F","vowel":"OW","k":2,"F2":1221,"F1":605},{"speaker":"EN_203_F","vowel":"OW","k":3,"F2":1676,"F1":643},{"speaker":"EN_203_F","vowel":"OW","k":4,"F2":1901,"F1":610},{"speaker":"EN_203_F","vowel":"OW","k":5,"F2":1764,"F1":526},{"speaker":"EN_203_F","vowel":"OW","k":6,"F2":1345,"F1":440},{"speaker":"EN_203_F","vowel":"OW","k":7,"F2":890,"F1":403},
      {"speaker":"EN_203_F","vowel":"OY","k":0,"F2":1074,"F1":869},{"speaker":"EN_203_F","vowel":"OY","k":1,"F2":1270,"F1":826},{"speaker":"EN_203_F","vowel":"OY","k":2,"F2":1455,"F1":678},{"speaker":"EN_203_F","vowel":"OY","k":3,"F2":1519,"F1":512},{"speaker":"EN_203_F","vowel":"OY","k":4,"F2":1426,"F1":426},{"speaker":"EN_203_F","vowel":"OY","k":5,"F2":1230,"F1":469},{"speaker":"EN_203_F","vowel":"OY","k":6,"F2":1045,"F1":617},{"speaker":"EN_203_F","vowel":"OY","k":7,"F2":981,"F1":782},

      {"speaker":"EN_204_F","vowel":"EY","k":0,"F2":2470,"F1":677},{"speaker":"EN_204_F","vowel":"EY","k":1,"F2":2681,"F1":710},{"speaker":"EN_204_F","vowel":"EY","k":2,"F2":3035,"F1":662},{"speaker":"EN_204_F","vowel":"EY","k":3,"F2":3326,"F1":561},{"speaker":"EN_204_F","vowel":"EY","k":4,"F2":3382,"F1":467},{"speaker":"EN_204_F","vowel":"EY","k":5,"F2":3171,"F1":435},{"speaker":"EN_204_F","vowel":"EY","k":6,"F2":2817,"F1":483},{"speaker":"EN_204_F","vowel":"EY","k":7,"F2":2526,"F1":583},
      {"speaker":"EN_204_F","vowel":"EH","k":0,"F2":1695,"F1":1035},{"speaker":"EN_204_F","vowel":"EH","k":1,"F2":1888,"F1":1022},{"speaker":"EN_204_F","vowel":"EH","k":2,"F2":2156,"F1":920},{"speaker":"EN_204_F","vowel":"EH","k":3,"F2":2343,"F1":787},{"speaker":"EN_204_F","vowel":"EH","k":4,"F2":2338,"F1":702},{"speaker":"EN_204_F","vowel":"EH","k":5,"F2":2144,"F1":715},{"speaker":"EN_204_F","vowel":"EH","k":6,"F2":1876,"F1":817},{"speaker":"EN_204_F","vowel":"EH","k":7,"F2":1689,"F1":950},
      {"speaker":"EN_204_F","vowel":"OW","k":0,"F2":984,"F1":593},{"speaker":"EN_204_F","vowel":"OW","k":1,"F2":1037,"F1":694},{"speaker":"EN_204_F","vowel":"OW","k":2,"F2":1324,"F1":790},{"speaker":"EN_204_F","vowel":"OW","k":3,"F2":1678,"F1":824},{"speaker":"EN_204_F","vowel":"OW","k":4,"F2":1890,"F1":777},{"speaker":"EN_204_F","vowel":"OW","k":5,"F2":1837,"F1":676},{"speaker":"EN_204_F","vowel":"OW","k":6,"F2":1550,"F1":580},{"speaker":"EN_204_F","vowel":"OW","k":7,"F2":1197,"F1":546},
      {"speaker":"EN_204_F","vowel":"OY","k":0,"F2":1142,"F1":489},{"speaker":"EN_204_F","vowel":"OY","k":1,"F2":951,"F1":579},{"speaker":"EN_204_F","vowel":"OY","k":2,"F2":931,"F1":762},{"speaker":"EN_204_F","vowel":"OY","k":3,"F2":1094,"F1":932},{"speaker":"EN_204_F","vowel":"OY","k":4,"F2":1345,"F1":988},{"speaker":"EN_204_F","vowel":"OY","k":5,"F2":1535,"F1":898},{"speaker":"EN_204_F","vowel":"OY","k":6,"F2":1555,"F1":715},{"speaker":"EN_204_F","vowel":"OY","k":7,"F2":1392,"F1":545},

      {"speaker":"EN_211_M","vowel":"EY","k":0,"F2":1852,"F1":602},{"speaker":"EN_211_M","vowel":"EY","k":1,"F2":1995,"F1":586},{"speaker":"EN_211_M","vowel":"EY","k":2,"F2":2244,"F1":503},{"speaker":"EN_211_M","vowel":"EY","k":3,"F2":2453,"F1":401},{"speaker":"EN_211_M","vowel":"EY","k":4,"F2":2500,"F1":340},{"speaker":"EN_211_M","vowel":"EY","k":5,"F2":2357,"F1":356},{"speaker":"EN_211_M","vowel":"EY","k":6,"F2":2108,"F1":439},{"speaker":"EN_211_M","vowel":"EY","k":7,"F2":1899,"F1":541},
      {"speaker":"EN_211_M","vowel":"EH","k":0,"F2":1593,"F1":615},{"speaker":"EN_211_M","vowel":"EH","k":1,"F2":1744,"F1":636},{"speaker":"EN_211_M","vowel":"EH","k":2,"F2":1993,"F1":599},{"speaker":"EN_211_M","vowel":"EH","k":3,"F2":2193,"F1":524},{"speaker":"EN_211_M","vowel":"EH","k":4,"F2":2228,"F1":456},{"speaker":"EN_211_M","vowel":"EH","k":5,"F2":2076,"F1":435},{"speaker":"EN_211_M","vowel":"EH","k":6,"F2":1827,"F1":473},{"speaker":"EN_211_M","vowel":"EH","k":7,"F2":1627,"F1":548},
      {"speaker":"EN_211_M","vowel":"OW","k":0,"F2":631,"F1":503},{"speaker":"EN_211_M","vowel":"OW","k":1,"F2":726,"F1":630},{"speaker":"EN_211_M","vowel":"OW","k":2,"F2":1050,"F1":704},{"speaker":"EN_211_M","vowel":"OW","k":3,"F2":1413,"F1":682},{"speaker":"EN_211_M","vowel":"OW","k":4,"F2":1603,"F1":578},{"speaker":"EN_211_M","vowel":"OW","k":5,"F2":1508,"F1":451},{"speaker":"EN_211_M","vowel":"OW","k":6,"F2":1184,"F1":377},{"speaker":"EN_211_M","vowel":"OW","k":7,"F2":821,"F1":398},
      {"speaker":"EN_211_M","vowel":"OY","k":0,"F2":777,"F1":456},{"speaker":"EN_211_M","vowel":"OY","k":1,"F2":708,"F1":523},{"speaker":"EN_211_M","vowel":"OY","k":2,"F2":748,"F1":661},{"speaker":"EN_211_M","vowel":"OY","k":3,"F2":873,"F1":790},{"speaker":"EN_211_M","vowel":"OY","k":4,"F2":1010,"F1":833},{"speaker":"EN_211_M","vowel":"OY","k":5,"F2":1078,"F1":766},{"speaker":"EN_211_M","vowel":"OY","k":6,"F2":1038,"F1":628},{"speaker":"EN_211_M","vowel":"OY","k":7,"F2":913,"F1":499},

      {"speaker":"EN_212_M","vowel":"EY","k":0,"F2":1917,"F1":511},{"speaker":"EN_212_M","vowel":"EY","k":1,"F2":2092,"F1":514},{"speaker":"EN_212_M","vowel":"EY","k":2,"F2":2444,"F1":456},{"speaker":"EN_212_M","vowel":"EY","k":3,"F2":2766,"F1":371},{"speaker":"EN_212_M","vowel":"EY","k":4,"F2":2869,"F1":309},{"speaker":"EN_212_M","vowel":"EY","k":5,"F2":2694,"F1":307},{"speaker":"EN_212_M","vowel":"EY","k":6,"F2":2342,"F1":365},{"speaker":"EN_212_M","vowel":"EY","k":7,"F2":2020,"F1":449},
      {"speaker":"EN_212_M","vowel":"EH","k":0,"F2":1563,"F1":634},{"speaker":"EN_212_M","vowel":"EH","k":1,"F2":1753,"F1":645},{"speaker":"EN_212_M","vowel":"EH","k":2,"F2":2093,"F1":584},{"speaker":"EN_212_M","vowel":"EH","k":3,"F2":2385,"F1":487},{"speaker":"EN_212_M","vowel":"EH","k":4,"F2":2457,"F1":409},{"speaker":"EN_212_M","vowel":"EH","k":5,"F2":2267,"F1":398},{"speaker":"EN_212_M","vowel":"EH","k":6,"F2":1927,"F1":459},{"speaker":"EN_212_M","vowel":"EH","k":7,"F2":1635,"F1":557},
      {"speaker":"EN_212_M","vowel":"OW","k":0,"F2":424,"F1":549},{"speaker":"EN_212_M","vowel":"OW","k":1,"F2":599,"F1":580},{"speaker":"EN_212_M","vowel":"OW","k":2,"F2":947,"F1":554},{"speaker":"EN_212_M","vowel":"OW","k":3,"F2":1263,"F1":486},{"speaker":"EN_212_M","vowel":"OW","k":4,"F2":1362,"F1":416},{"speaker":"EN_212_M","vowel":"OW","k":5,"F2":1187,"F1":385},{"speaker":"EN_212_M","vowel":"OW","k":6,"F2":839,"F1":411},{"speaker":"EN_212_M","vowel":"OW","k":7,"F2":524,"F1":479},
      {"speaker":"EN_212_M","vowel":"OY","k":0,"F2":676,"F1":543},{"speaker":"EN_212_M","vowel":"OY","k":1,"F2":766,"F1":630},{"speaker":"EN_212_M","vowel":"OY","k":2,"F2":983,"F1":666},{"speaker":"EN_212_M","vowel":"OY","k":3,"F2":1200,"F1":630},{"speaker":"EN_212_M","vowel":"OY","k":4,"F2":1290,"F1":543},{"speaker":"EN_212_M","vowel":"OY","k":5,"F2":1200,"F1":456},{"speaker":"EN_212_M","vowel":"OY","k":6,"F2":983,"F1":420},{"speaker":"EN_212_M","vowel":"OY","k":7,"F2":766,"F1":456},

      {"speaker":"EN_213_F","vowel":"EY","k":0,"F2":2451,"F1":524},{"speaker":"EN_213_F","vowel":"EY","k":1,"F2":2551,"F1":557},{"speaker":"EN_213_F","vowel":"EY","k":2,"F2":2721,"F1":551},{"speaker":"EN_213_F","vowel":"EY","k":3,"F2":2861,"F1":509},{"speaker":"EN_213_F","vowel":"EY","k":4,"F2":2889,"F1":455},{"speaker":"EN_213_F","vowel":"EY","k":5,"F2":2789,"F1":422},{"speaker":"EN_213_F","vowel":"EY","k":6,"F2":2619,"F1":429},{"speaker":"EN_213_F","vowel":"EY","k":7,"F2":2479,"F1":471},
      {"speaker":"EN_213_F","vowel":"EH","k":0,"F2":1821,"F1":997},{"speaker":"EN_213_F","vowel":"EH","k":1,"F2":2027,"F1":942},{"speaker":"EN_213_F","vowel":"EH","k":2,"F2":2291,"F1":760},{"speaker":"EN_213_F","vowel":"EH","k":3,"F2":2458,"F1":558},{"speaker":"EN_213_F","vowel":"EH","k":4,"F2":2431,"F1":454},{"speaker":"EN_213_F","vowel":"EH","k":5,"F2":2225,"F1":509},{"speaker":"EN_213_F","vowel":"EH","k":6,"F2":1961,"F1":691},{"speaker":"EN_213_F","vowel":"EH","k":7,"F2":1794,"F1":893},
      {"speaker":"EN_213_F","vowel":"OW","k":0,"F2":695,"F1":478},{"speaker":"EN_213_F","vowel":"OW","k":1,"F2":768,"F1":525},{"speaker":"EN_213_F","vowel":"OW","k":2,"F2":977,"F1":558},{"speaker":"EN_213_F","vowel":"OW","k":3,"F2":1199,"F1":558},{"speaker":"EN_213_F","vowel":"OW","k":4,"F2":1305,"F1":525},{"speaker":"EN_213_F","vowel":"OW","k":5,"F2":1232,"F1":477},{"speaker":"EN_213_F","vowel":"OW","k":6,"F2":1023,"F1":444},{"speaker":"EN_213_F","vowel":"OW","k":7,"F2":801,"F1":444},
      {"speaker":"EN_213_F","vowel":"OY","k":0,"F2":1036,"F1":450},{"speaker":"EN_213_F","vowel":"OY","k":1,"F2":921,"F1":557},{"speaker":"EN_213_F","vowel":"OY","k":2,"F2":1029,"F1":719},{"speaker":"EN_213_F","vowel":"OY","k":3,"F2":1298,"F1":841},{"speaker":"EN_213_F","vowel":"OY","k":4,"F2":1570,"F1":851},{"speaker":"EN_213_F","vowel":"OY","k":5,"F2":1685,"F1":743},{"speaker":"EN_213_F","vowel":"OY","k":6,"F2":1577,"F1":581},{"speaker":"EN_213_F","vowel":"OY","k":7,"F2":1308,"F1":460},

      {"speaker":"EN_214_F","vowel":"EY","k":0,"F2":2057,"F1":462},{"speaker":"EN_214_F","vowel":"EY","k":1,"F2":2204,"F1":494},{"speaker":"EN_214_F","vowel":"EY","k":2,"F2":2554,"F1":503},{"speaker":"EN_214_F","vowel":"EY","k":3,"F2":2901,"F1":483},{"speaker":"EN_214_F","vowel":"EY","k":4,"F2":3043,"F1":447},{"speaker":"EN_214_F","vowel":"EY","k":5,"F2":2896,"F1":416},{"speaker":"EN_214_F","vowel":"EY","k":6,"F2":2546,"F1":407},{"speaker":"EN_214_F","vowel":"EY","k":7,"F2":2199,"F1":427},
      {"speaker":"EN_214_F","vowel":"EH","k":0,"F2":1879,"F1":626},{"speaker":"EN_214_F","vowel":"EH","k":1,"F2":1949,"F1":663},{"speaker":"EN_214_F","vowel":"EH","k":2,"F2":2083,"F1":670},{"speaker":"EN_214_F","vowel":"EH","k":3,"F2":2204,"F1":643},{"speaker":"EN_214_F","vowel":"EH","k":4,"F2":2241,"F1":599},{"speaker":"EN_214_F","vowel":"EH","k":5,"F2":2171,"F1":563},{"speaker":"EN_214_F","vowel":"EH","k":6,"F2":2037,"F1":556},{"speaker":"EN_214_F","vowel":"EH","k":7,"F2":1916,"F1":582},
      {"speaker":"EN_214_F","vowel":"OW","k":0,"F2":666,"F1":472},{"speaker":"EN_214_F","vowel":"OW","k":1,"F2":835,"F1":497},{"speaker":"EN_214_F","vowel":"OW","k":2,"F2":1243,"F1":507},{"speaker":"EN_214_F","vowel":"OW","k":3,"F2":1651,"F1":497},{"speaker":"EN_214_F","vowel":"OW","k":4,"F2":1820,"F1":472},{"speaker":"EN_214_F","vowel":"OW","k":5,"F2":1651,"F1":448},{"speaker":"EN_214_F","vowel":"OW","k":6,"F2":1243,"F1":438},{"speaker":"EN_214_F","vowel":"OW","k":7,"F2":835,"F1":448},
      {"speaker":"EN_214_F","vowel":"OY","k":0,"F2":1104,"F1":610},{"speaker":"EN_214_F","vowel":"OY","k":1,"F2":1169,"F1":656},{"speaker":"EN_214_F","vowel":"OY","k":2,"F2":1327,"F1":675},{"speaker":"EN_214_F","vowel":"OY","k":3,"F2":1485,"F1":656},{"speaker":"EN_214_F","vowel":"OY","k":4,"F2":1550,"F1":610},{"speaker":"EN_214_F","vowel":"OY","k":5,"F2":1485,"F1":564},{"speaker":"EN_214_F","vowel":"OY","k":6,"F2":1327,"F1":545},{"speaker":"EN_214_F","vowel":"OY","k":7,"F2":1169,"F1":564}
    ]
  },
  "spacing": 11.5,
  "hconcat": [
    {"spacing": 11.5, "vconcat": [
      {"spacing": -1.3, "vconcat": [
        {"width": 321, "height": 33, "view": {"fill": "#d9d9d9", "stroke": "#333333", "strokeWidth": 1.3}, "data": {"name": "strips"}, "transform": [{"filter": {"field": "speaker", "equal": "EN_201_M"}}], "mark": {"type": "text", "fontSize": 16.5, "color": "#1a1a1a", "baseline": "middle", "align": "center"}, "encoding": {"text": {"field": "speaker", "type": "nominal"}}},
        {"width": 321, "height": 186,
         "encoding": {
           "x": {"field": "F2", "type": "quantitative", "scale": {"domain": [314, 3514], "reverse": true, "nice": false, "zero": false}, "axis": {"values": [500,1000,1500,2000,2500,3000,3500], "labels": false, "ticks": false, "title": null, "gridWidth": {"condition": {"test": "datum.value % 1000 === 0", "value": 1.6}, "value": 0.8}}},
           "y": {"field": "F1", "type": "quantitative", "scale": {"domain": [264, 1073], "reverse": true, "nice": false, "zero": false}, "axis": {"values": [300,400,500,600,700,800,900,1000], "format": "d", "labelExpr": "datum.value % 200 === 0 ? datum.label : ''", "tickOpacity": {"condition": {"test": "datum.value % 200 === 0", "value": 1}, "value": 0}, "gridWidth": {"condition": {"test": "datum.value % 200 === 0", "value": 1.6}, "value": 0.8}, "title": null}}
         },
         "layer": [
           {"data": {"name": "tokens"}, "transform": [{"filter": {"field": "speaker", "equal": "EN_201_M"}}], "mark": {"type": "point", "shape": "circle", "filled": false, "size": 60, "strokeWidth": 1.3, "opacity": 1, "clip": true}, "encoding": {"color": {"field": "vowel", "type": "nominal", "title": "vowel"}}},
           {"data": {"name": "ellipses"}, "transform": [{"filter": {"field": "speaker", "equal": "EN_201_M"}}], "mark": {"type": "line", "interpolate": "cardinal-closed", "strokeWidth": 1.7, "clip": true}, "encoding": {"color": {"field": "vowel", "type": "nominal", "title": "vowel"}, "order": {"field": "k", "type": "quantitative"}}},
           {"data": {"name": "means"}, "transform": [{"filter": {"field": "speaker", "equal": "EN_201_M"}}], "mark": {"type": "point", "shape": "circle", "filled": true, "size": 95, "color": "#000000", "opacity": 1}}
         ]}
      ]},
      {"spacing": -1.3, "vconcat": [
        {"width": 321, "height": 33, "view": {"fill": "#d9d9d9", "stroke": "#333333", "strokeWidth": 1.3}, "data": {"name": "strips"}, "transform": [{"filter": {"field": "speaker", "equal": "EN_204_F"}}], "mark": {"type": "text", "fontSize": 16.5, "color": "#1a1a1a", "baseline": "middle", "align": "center"}, "encoding": {"text": {"field": "speaker", "type": "nominal"}}},
        {"width": 321, "height": 186,
         "encoding": {
           "x": {"field": "F2", "type": "quantitative", "scale": {"domain": [314, 3514], "reverse": true, "nice": false, "zero": false}, "axis": {"values": [500,1000,1500,2000,2500,3000,3500], "labels": false, "ticks": false, "title": null, "gridWidth": {"condition": {"test": "datum.value % 1000 === 0", "value": 1.6}, "value": 0.8}}},
           "y": {"field": "F1", "type": "quantitative", "scale": {"domain": [264, 1073], "reverse": true, "nice": false, "zero": false}, "axis": {"values": [300,400,500,600,700,800,900,1000], "format": "d", "labelExpr": "datum.value % 200 === 0 ? datum.label : ''", "tickOpacity": {"condition": {"test": "datum.value % 200 === 0", "value": 1}, "value": 0}, "gridWidth": {"condition": {"test": "datum.value % 200 === 0", "value": 1.6}, "value": 0.8}, "title": "F1 (in Hz)"}}
         },
         "layer": [
           {"data": {"name": "tokens"}, "transform": [{"filter": {"field": "speaker", "equal": "EN_204_F"}}], "mark": {"type": "point", "shape": "circle", "filled": false, "size": 60, "strokeWidth": 1.3, "opacity": 1, "clip": true}, "encoding": {"color": {"field": "vowel", "type": "nominal", "title": "vowel"}}},
           {"data": {"name": "ellipses"}, "transform": [{"filter": {"field": "speaker", "equal": "EN_204_F"}}], "mark": {"type": "line", "interpolate": "cardinal-closed", "strokeWidth": 1.7, "clip": true}, "encoding": {"color": {"field": "vowel", "type": "nominal", "title": "vowel"}, "order": {"field": "k", "type": "quantitative"}}},
           {"data": {"name": "means"}, "transform": [{"filter": {"field": "speaker", "equal": "EN_204_F"}}], "mark": {"type": "point", "shape": "circle", "filled": true, "size": 95, "color": "#000000", "opacity": 1}}
         ]}
      ]},
      {"spacing": -1.3, "vconcat": [
        {"width": 321, "height": 33, "view": {"fill": "#d9d9d9", "stroke": "#333333", "strokeWidth": 1.3}, "data": {"name": "strips"}, "transform": [{"filter": {"field": "speaker", "equal": "EN_213_F"}}], "mark": {"type": "text", "fontSize": 16.5, "color": "#1a1a1a", "baseline": "middle", "align": "center"}, "encoding": {"text": {"field": "speaker", "type": "nominal"}}},
        {"width": 321, "height": 186,
         "encoding": {
           "x": {"field": "F2", "type": "quantitative", "scale": {"domain": [314, 3514], "reverse": true, "nice": false, "zero": false}, "axis": {"values": [500,1000,1500,2000,2500,3000,3500], "format": "d", "labelExpr": "datum.value % 1000 === 0 ? datum.label : ''", "tickOpacity": {"condition": {"test": "datum.value % 1000 === 0", "value": 1}, "value": 0}, "gridWidth": {"condition": {"test": "datum.value % 1000 === 0", "value": 1.6}, "value": 0.8}, "title": null}},
           "y": {"field": "F1", "type": "quantitative", "scale": {"domain": [264, 1073], "reverse": true, "nice": false, "zero": false}, "axis": {"values": [300,400,500,600,700,800,900,1000], "format": "d", "labelExpr": "datum.value % 200 === 0 ? datum.label : ''", "tickOpacity": {"condition": {"test": "datum.value % 200 === 0", "value": 1}, "value": 0}, "gridWidth": {"condition": {"test": "datum.value % 200 === 0", "value": 1.6}, "value": 0.8}, "title": null}}
         },
         "layer": [
           {"data": {"name": "tokens"}, "transform": [{"filter": {"field": "speaker", "equal": "EN_213_F"}}], "mark": {"type": "point", "shape": "circle", "filled": false, "size": 60, "strokeWidth": 1.3, "opacity": 1, "clip": true}, "encoding": {"color": {"field": "vowel", "type": "nominal", "title": "vowel"}}},
           {"data": {"name": "ellipses"}, "transform": [{"filter": {"field": "speaker", "equal": "EN_213_F"}}], "mark": {"type": "line", "interpolate": "cardinal-closed", "strokeWidth": 1.7, "clip": true}, "encoding": {"color": {"field": "vowel", "type": "nominal", "title": "vowel"}, "order": {"field": "k", "type": "quantitative"}}},
           {"data": {"name": "means"}, "transform": [{"filter": {"field": "speaker", "equal": "EN_213_F"}}], "mark": {"type": "point", "shape": "circle", "filled": true, "size": 95, "color": "#000000", "opacity": 1}}
         ]}
      ]}
    ]},
    {"spacing": 11.5, "vconcat": [
      {"spacing": -1.3, "vconcat": [
        {"width": 321, "height": 33, "view": {"fill": "#d9d9d9", "stroke": "#333333", "strokeWidth": 1.3}, "data": {"name": "strips"}, "transform": [{"filter": {"field": "speaker", "equal": "EN_202_M"}}], "mark": {"type": "text", "fontSize": 16.5, "color": "#1a1a1a", "baseline": "middle", "align": "center"}, "encoding": {"text": {"field": "speaker", "type": "nominal"}}},
        {"width": 321, "height": 186,
         "encoding": {
           "x": {"field": "F2", "type": "quantitative", "scale": {"domain": [314, 3514], "reverse": true, "nice": false, "zero": false}, "axis": {"values": [500,1000,1500,2000,2500,3000,3500], "labels": false, "ticks": false, "title": null, "gridWidth": {"condition": {"test": "datum.value % 1000 === 0", "value": 1.6}, "value": 0.8}}},
           "y": {"field": "F1", "type": "quantitative", "scale": {"domain": [264, 1073], "reverse": true, "nice": false, "zero": false}, "axis": {"values": [300,400,500,600,700,800,900,1000], "labels": false, "ticks": false, "title": null, "gridWidth": {"condition": {"test": "datum.value % 200 === 0", "value": 1.6}, "value": 0.8}}}
         },
         "layer": [
           {"data": {"name": "tokens"}, "transform": [{"filter": {"field": "speaker", "equal": "EN_202_M"}}], "mark": {"type": "point", "shape": "circle", "filled": false, "size": 60, "strokeWidth": 1.3, "opacity": 1, "clip": true}, "encoding": {"color": {"field": "vowel", "type": "nominal", "title": "vowel"}}},
           {"data": {"name": "ellipses"}, "transform": [{"filter": {"field": "speaker", "equal": "EN_202_M"}}], "mark": {"type": "line", "interpolate": "cardinal-closed", "strokeWidth": 1.7, "clip": true}, "encoding": {"color": {"field": "vowel", "type": "nominal", "title": "vowel"}, "order": {"field": "k", "type": "quantitative"}}},
           {"data": {"name": "means"}, "transform": [{"filter": {"field": "speaker", "equal": "EN_202_M"}}], "mark": {"type": "point", "shape": "circle", "filled": true, "size": 95, "color": "#000000", "opacity": 1}}
         ]}
      ]},
      {"spacing": -1.3, "vconcat": [
        {"width": 321, "height": 33, "view": {"fill": "#d9d9d9", "stroke": "#333333", "strokeWidth": 1.3}, "data": {"name": "strips"}, "transform": [{"filter": {"field": "speaker", "equal": "EN_211_M"}}], "mark": {"type": "text", "fontSize": 16.5, "color": "#1a1a1a", "baseline": "middle", "align": "center"}, "encoding": {"text": {"field": "speaker", "type": "nominal"}}},
        {"width": 321, "height": 186,
         "encoding": {
           "x": {"field": "F2", "type": "quantitative", "scale": {"domain": [314, 3514], "reverse": true, "nice": false, "zero": false}, "axis": {"values": [500,1000,1500,2000,2500,3000,3500], "labels": false, "ticks": false, "title": null, "gridWidth": {"condition": {"test": "datum.value % 1000 === 0", "value": 1.6}, "value": 0.8}}},
           "y": {"field": "F1", "type": "quantitative", "scale": {"domain": [264, 1073], "reverse": true, "nice": false, "zero": false}, "axis": {"values": [300,400,500,600,700,800,900,1000], "labels": false, "ticks": false, "title": null, "gridWidth": {"condition": {"test": "datum.value % 200 === 0", "value": 1.6}, "value": 0.8}}}
         },
         "layer": [
           {"data": {"name": "tokens"}, "transform": [{"filter": {"field": "speaker", "equal": "EN_211_M"}}], "mark": {"type": "point", "shape": "circle", "filled": false, "size": 60, "strokeWidth": 1.3, "opacity": 1, "clip": true}, "encoding": {"color": {"field": "vowel", "type": "nominal", "title": "vowel"}}},
           {"data": {"name": "ellipses"}, "transform": [{"filter": {"field": "speaker", "equal": "EN_211_M"}}], "mark": {"type": "line", "interpolate": "cardinal-closed", "strokeWidth": 1.7, "clip": true}, "encoding": {"color": {"field": "vowel", "type": "nominal", "title": "vowel"}, "order": {"field": "k", "type": "quantitative"}}},
           {"data": {"name": "means"}, "transform": [{"filter": {"field": "speaker", "equal": "EN_211_M"}}], "mark": {"type": "point", "shape": "circle", "filled": true, "size": 95, "color": "#000000", "opacity": 1}}
         ]}
      ]},
      {"spacing": -1.3, "vconcat": [
        {"width": 321, "height": 33, "view": {"fill": "#d9d9d9", "stroke": "#333333", "strokeWidth": 1.3}, "data": {"name": "strips"}, "transform": [{"filter": {"field": "speaker", "equal": "EN_214_F"}}], "mark": {"type": "text", "fontSize": 16.5, "color": "#1a1a1a", "baseline": "middle", "align": "center"}, "encoding": {"text": {"field": "speaker", "type": "nominal"}}},
        {"width": 321, "height": 186,
         "encoding": {
           "x": {"field": "F2", "type": "quantitative", "scale": {"domain": [314, 3514], "reverse": true, "nice": false, "zero": false}, "axis": {"values": [500,1000,1500,2000,2500,3000,3500], "format": "d", "labelExpr": "datum.value % 1000 === 0 ? datum.label : ''", "tickOpacity": {"condition": {"test": "datum.value % 1000 === 0", "value": 1}, "value": 0}, "gridWidth": {"condition": {"test": "datum.value % 1000 === 0", "value": 1.6}, "value": 0.8}, "title": "F2 (in Hz)"}},
           "y": {"field": "F1", "type": "quantitative", "scale": {"domain": [264, 1073], "reverse": true, "nice": false, "zero": false}, "axis": {"values": [300,400,500,600,700,800,900,1000], "labels": false, "ticks": false, "title": null, "gridWidth": {"condition": {"test": "datum.value % 200 === 0", "value": 1.6}, "value": 0.8}}}
         },
         "layer": [
           {"data": {"name": "tokens"}, "transform": [{"filter": {"field": "speaker", "equal": "EN_214_F"}}], "mark": {"type": "point", "shape": "circle", "filled": false, "size": 60, "strokeWidth": 1.3, "opacity": 1, "clip": true}, "encoding": {"color": {"field": "vowel", "type": "nominal", "title": "vowel"}}},
           {"data": {"name": "ellipses"}, "transform": [{"filter": {"field": "speaker", "equal": "EN_214_F"}}], "mark": {"type": "line", "interpolate": "cardinal-closed", "strokeWidth": 1.7, "clip": true}, "encoding": {"color": {"field": "vowel", "type": "nominal", "title": "vowel"}, "order": {"field": "k", "type": "quantitative"}}},
           {"data": {"name": "means"}, "transform": [{"filter": {"field": "speaker", "equal": "EN_214_F"}}], "mark": {"type": "point", "shape": "circle", "filled": true, "size": 95, "color": "#000000", "opacity": 1}}
         ]}
      ]}
    ]},
    {"spacing": 11.5, "vconcat": [
      {"spacing": -1.3, "vconcat": [
        {"width": 313, "height": 33, "view": {"fill": "#d9d9d9", "stroke": "#333333", "strokeWidth": 1.3}, "data": {"name": "strips"}, "transform": [{"filter": {"field": "speaker", "equal": "EN_203_F"}}], "mark": {"type": "text", "fontSize": 16.5, "color": "#1a1a1a", "baseline": "middle", "align": "center", "dx": 4}, "encoding": {"text": {"field": "speaker", "type": "nominal"}}},
        {"width": 313, "height": 186,
         "encoding": {
           "x": {"field": "F2", "type": "quantitative", "scale": {"domain": [394, 3514], "reverse": true, "nice": false, "zero": false}, "axis": {"values": [500,1000,1500,2000,2500,3000,3500], "labels": false, "ticks": false, "title": null, "gridWidth": {"condition": {"test": "datum.value % 1000 === 0", "value": 1.6}, "value": 0.8}}},
           "y": {"field": "F1", "type": "quantitative", "scale": {"domain": [264, 1073], "reverse": true, "nice": false, "zero": false}, "axis": {"values": [300,400,500,600,700,800,900,1000], "labels": false, "ticks": false, "title": null, "gridWidth": {"condition": {"test": "datum.value % 200 === 0", "value": 1.6}, "value": 0.8}}}
         },
         "layer": [
           {"data": {"name": "tokens"}, "transform": [{"filter": {"field": "speaker", "equal": "EN_203_F"}}], "mark": {"type": "point", "shape": "circle", "filled": false, "size": 60, "strokeWidth": 1.3, "opacity": 1, "clip": true}, "encoding": {"color": {"field": "vowel", "type": "nominal", "title": "vowel"}}},
           {"data": {"name": "ellipses"}, "transform": [{"filter": {"field": "speaker", "equal": "EN_203_F"}}], "mark": {"type": "line", "interpolate": "cardinal-closed", "strokeWidth": 1.7, "clip": true}, "encoding": {"color": {"field": "vowel", "type": "nominal", "title": "vowel"}, "order": {"field": "k", "type": "quantitative"}}},
           {"data": {"name": "means"}, "transform": [{"filter": {"field": "speaker", "equal": "EN_203_F"}}], "mark": {"type": "point", "shape": "circle", "filled": true, "size": 95, "color": "#000000", "opacity": 1}}
         ]}
      ]},
      {"spacing": -1.3, "vconcat": [
        {"width": 313, "height": 33, "view": {"fill": "#d9d9d9", "stroke": "#333333", "strokeWidth": 1.3}, "data": {"name": "strips"}, "transform": [{"filter": {"field": "speaker", "equal": "EN_212_M"}}], "mark": {"type": "text", "fontSize": 16.5, "color": "#1a1a1a", "baseline": "middle", "align": "center", "dx": 4}, "encoding": {"text": {"field": "speaker", "type": "nominal"}}},
        {"width": 313, "height": 186,
         "encoding": {
           "x": {"field": "F2", "type": "quantitative", "scale": {"domain": [394, 3514], "reverse": true, "nice": false, "zero": false}, "axis": {"values": [500,1000,1500,2000,2500,3000,3500], "format": "d", "labelExpr": "datum.value % 1000 === 0 ? datum.label : ''", "tickOpacity": {"condition": {"test": "datum.value % 1000 === 0", "value": 1}, "value": 0}, "gridWidth": {"condition": {"test": "datum.value % 1000 === 0", "value": 1.6}, "value": 0.8}, "title": null}},
           "y": {"field": "F1", "type": "quantitative", "scale": {"domain": [264, 1073], "reverse": true, "nice": false, "zero": false}, "axis": {"values": [300,400,500,600,700,800,900,1000], "labels": false, "ticks": false, "title": null, "gridWidth": {"condition": {"test": "datum.value % 200 === 0", "value": 1.6}, "value": 0.8}}}
         },
         "layer": [
           {"data": {"name": "tokens"}, "transform": [{"filter": {"field": "speaker", "equal": "EN_212_M"}}], "mark": {"type": "point", "shape": "circle", "filled": false, "size": 60, "strokeWidth": 1.3, "opacity": 1, "clip": true}, "encoding": {"color": {"field": "vowel", "type": "nominal", "title": "vowel"}}},
           {"data": {"name": "ellipses"}, "transform": [{"filter": {"field": "speaker", "equal": "EN_212_M"}}], "mark": {"type": "line", "interpolate": "cardinal-closed", "strokeWidth": 1.7, "clip": true}, "encoding": {"color": {"field": "vowel", "type": "nominal", "title": "vowel"}, "order": {"field": "k", "type": "quantitative"}}},
           {"data": {"name": "means"}, "transform": [{"filter": {"field": "speaker", "equal": "EN_212_M"}}], "mark": {"type": "point", "shape": "circle", "filled": true, "size": 95, "color": "#000000", "opacity": 1}}
         ]}
      ]}
    ]}
  ]
}
